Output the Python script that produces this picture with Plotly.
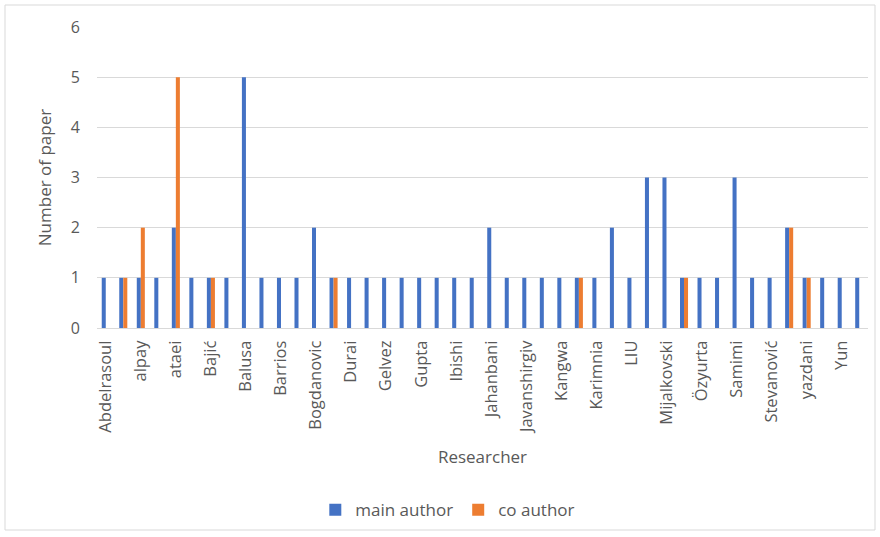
import plotly.graph_objects as go

# Researchers, in the order they appear on the axis
researchers = [
    "Abdelrasoul", "Adoko", "alpay", "Amini", "ataei", "Azimi", "Bajić", "Bakhtavar",
    "Balusa", "Bao", "Barrios", "Bieniawski", "Bogdanovic", "Dey", "Durai", "Fattahi",
    "Gelvez", "Ghasemi", "Gupta", "Hoek", "Ibishi", "Iphar", "Jahanbani", "Jalalifar",
    "Javanshirgiv", "Kalamaras", "Kangwa", "Karadogan", "Karimnia", "Kumar", "LIU",
    "Mahdevari", "Mijalkovski", "Namin", "Özyurta", "Rahmanpour", "Samimi", "Shahriar",
    "Stevanović", "Tatiya", "yazdani", "Yetkin", "Yun", "Zare",
]

main_author = [1, 1, 1, 1, 2, 1, 1, 1, 5, 1, 1, 1, 2, 1, 1, 1, 1, 1, 1, 1, 1, 1,
               2, 1, 1, 1, 1, 1, 1, 2, 1, 3, 3, 1, 1, 1, 3, 1, 1, 2, 1, 1, 1, 1]
co_author = [0, 1, 2, 0, 5, 0, 1, 0, 0, 0, 0, 0, 0, 1, 0, 0, 0, 0, 0, 0, 0, 0,
             0, 0, 0, 0, 0, 1, 0, 0, 0, 0, 0, 1, 0, 0, 0, 0, 0, 2, 1, 0, 0, 0]

# Only every other name fits under the axis
shown_labels = researchers[::2]

text_color = "#595959"
font_family = "'Open Sans', sans-serif"

fig = go.Figure()
fig.add_trace(go.Bar(x=researchers, y=main_author, name="main author",
                     marker=dict(color="#4472C4", line=dict(width=0))))
fig.add_trace(go.Bar(x=researchers, y=co_author, name="co author",
                     marker=dict(color="#ED7D31", line=dict(width=0))))

fig.update_layout(
    width=880, height=537,
    margin=dict(l=97, r=12, t=27, b=209, autoexpand=False),
    paper_bgcolor="white", plot_bgcolor="white",
    barmode="group", bargap=0.54, bargroupgap=0,
    font=dict(family=font_family, color=text_color, size=15),
    showlegend=True,
    legend=dict(orientation="h", x=0.455, xanchor="center", y=-0.605, yanchor="middle",
                font=dict(size=17, color=text_color), itemwidth=30),
    xaxis=dict(
        type="category", automargin=False,
        tickmode="array", tickvals=shown_labels, ticktext=shown_labels,
        tickangle=-90, tickfont=dict(size=16.5, color=text_color),
        showgrid=False, showline=True, linecolor="#d9d9d9", linewidth=1,
        ticks="", ticklabelstandoff=5,
        title=dict(text="Researcher", font=dict(size=17, color=text_color), standoff=18),
    ),
    yaxis=dict(
        range=[0, 6], dtick=1, automargin=False,
        showgrid=True, gridcolor="#d9d9d9", gridwidth=1,
        zeroline=False, showline=False, ticks="", ticklabelstandoff=16,
        tickfont=dict(size=16, color=text_color),
        title=dict(text="Number of paper", font=dict(size=17, color=text_color),
                   standoff=14),
    ),
    shapes=[dict(type="rect", xref="paper", yref="paper",
                 x0=-92 / 771, x1=1 + 7 / 771, y0=-202 / 301, y1=1 + 22 / 301,
                 line=dict(color="#d9d9d9", width=1))],
)

fig.write_html("out.html")
